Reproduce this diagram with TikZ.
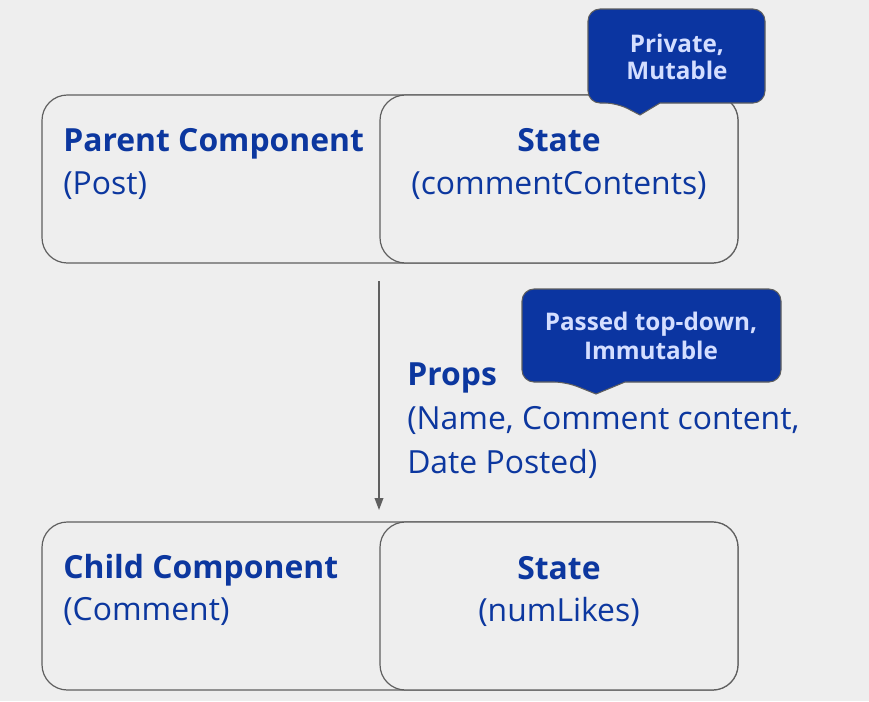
\documentclass[tikz,border=0pt]{standalone}
\usepackage{fontspec}
\setmainfont{Open Sans}
\usetikzlibrary{arrows.meta}
\definecolor{bg}{HTML}{EEEEEE}
\definecolor{txt}{HTML}{0C379F}
\definecolor{edge}{HTML}{5F5F5F}
\definecolor{calfill}{HTML}{0B35A1}
\definecolor{caltxt}{HTML}{D4DEFF}
\tikzset{
  box/.style={draw=edge, line width=0.9pt, fill=bg, rounded corners=19pt},
  title/.style={text=txt, font=\fontsize{23.9}{28}\selectfont\bfseries, inner sep=0pt},
  sub/.style={text=txt, font=\fontsize{23.9}{28}\selectfont, inner sep=0pt},
  callout/.style={draw=edge, line width=0.8pt, fill=calfill},
  caltext/.style={text=caltxt, font=\fontsize{18.2}{21}\selectfont\bfseries, align=center, inner sep=0pt},
  flow/.style={draw=edge, line width=1.1pt, -{Triangle[width=6.5pt,length=9pt]}}
}
\begin{document}
\begin{tikzpicture}[x=0.75pt,y=-0.75pt]
\fill[bg] (0,0) rectangle (869,701);
\useasboundingbox (0,0) rectangle (869,701);
% parent
\draw[box] (42,95) rectangle (738,263);
\draw[box] (380,95) rectangle (738,263);
\node[title, anchor=base west] (ptitle) at (63,151) {Parent Component};
\node[sub, anchor=base west] (psub) at (63,194) {(Post)};
\node[title, anchor=base] (pstate) at (559,151) {State};
\node[sub, anchor=base] (pstatesub) at (559,194) {(commentContents)};
% child
\draw[box] (42,522) rectangle (738,690);
\draw[box] (380,522) rectangle (738,690);
\node[title, anchor=base west] (ctitle) at (63,578) {Child Component};
\node[sub, anchor=base west] (csub) at (63,620) {(Comment)};
\node[title, anchor=base] (cstate) at (559,579) {State};
\node[sub, anchor=base] (cstatesub) at (559,621) {(numLikes)};
% arrow
\coordinate (astart) at (379,281);
\coordinate (aend) at (379,510);
\draw[flow] (astart) -- (aend);
% props
\node[title, anchor=base west] (props) at (407,385) {Props};
\node[sub, anchor=base west] (props1) at (407,429) {(Name, Comment content,};
\node[sub, anchor=base west] (props2) at (407,473) {Date Posted)};
% callout 1
\draw[callout] (660,103) [rounded corners=9pt] -- (765,103) -- (765,9) -- (588,9) -- (588,103) -- (617,103) [sharp corners] -- (640,115) -- cycle;
\node[caltext] (c1) at (677,57) {Private,\\[-1pt]Mutable};
% callout 2
\draw[callout] (625,382) [rounded corners=9pt] -- (781,382) -- (781,289) -- (522,289) -- (522,382) -- (566,382) [sharp corners] -- (596,394) -- cycle;
\node[caltext] (c2) at (651,336) {Passed top-down,\\[1pt]Immutable};
\end{tikzpicture}
\end{document}
